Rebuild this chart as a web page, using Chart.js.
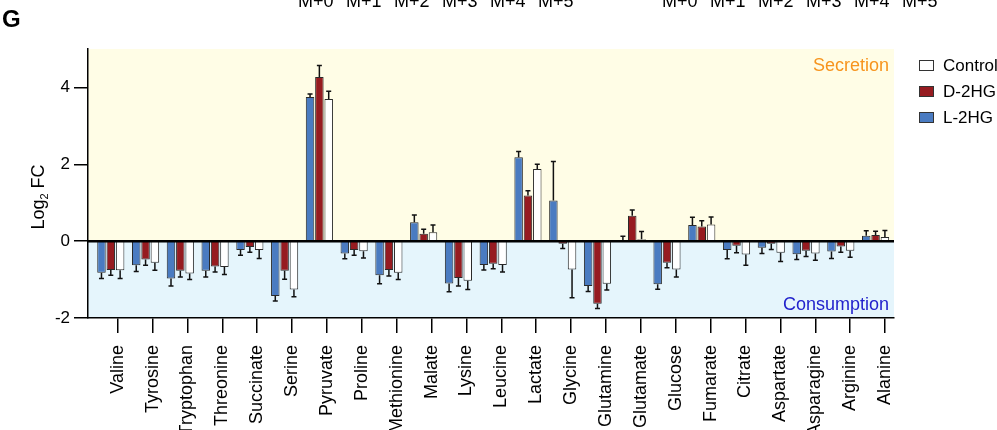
<!DOCTYPE html>
<html>
<head>
<meta charset="utf-8">
<script src="https://cdn.jsdelivr.net/npm/chart.js@4"></script>
<style>
  body { margin: 0; background: #fff; overflow: hidden; font-family: "Liberation Sans", Arial, sans-serif; }
  #wrap { position: relative; width: 997px; height: 430px; }
  canvas { position: absolute; left: 0; top: 0; }
  .txt { position: absolute; white-space: nowrap; color: #000; }
  .mrow { font-size: 18px; top: -9px; word-spacing: 7.5px; }
  .sw { position: absolute; width: 13px; height: 9px; border: 1.5px solid #333; }
</style>
</head>
<body>
<div id="wrap">
  <canvas id="chart" width="997" height="430"></canvas>
  <div class="txt" style="left:2px; top:5px; font-size:24px; font-weight:bold;">G</div>
  <div class="txt mrow" style="left:298px;">M+0 M+1 M+2 M+3 M+4 M+5</div>
  <div class="txt mrow" style="left:662px;">M+0 M+1 M+2 M+3 M+4 M+5</div>
  <div class="txt" style="left:39px; top:197px; font-size:18px; transform: translate(-50%,-50%) rotate(-90deg);">Log<sub style="font-size:11px;">2</sub> FC</div>
  <div class="txt" style="right:108px; top:55px; font-size:18px; color:#f7941d;">Secretion</div>
  <div class="txt" style="right:108px; top:294px; font-size:18px; color:#2222cc;">Consumption</div>
  <div id="legend"></div>
</div>
<script>
// ----------- Data -----------
const metabolites = ["Valine","Tyrosine","Tryptophan","Threonine","Succinate","Serine","Pyruvate","Proline","Methionine","Malate","Lysine","Leucine","Lactate","Glycine","Glutamine","Glutamate","Glucose","Fumarate","Citrate","Aspartate","Asparagine","Arginine","Alanine"];

const l2hg    = [-0.82,-0.63,-0.97,-0.77,-0.23,-1.43,3.75,-0.32,-0.89,0.49,-1.10,-0.62,2.18,1.06,-1.17,0.03,-1.12,0.42,-0.23,-0.17,-0.34,-0.27,0.14];
const l2hgErr = [0.15,0.16,0.20,0.16,0.14,0.13,0.08,0.14,0.22,0.19,0.22,0.13,0.15,1.01,0.14,0.10,0.13,0.20,0.23,0.15,0.14,0.18,0.13];
const d2hg    = [-0.75,-0.48,-0.77,-0.66,-0.15,-0.77,4.27,-0.23,-0.75,0.19,-0.96,-0.59,1.19,-0.07,-1.63,0.66,-0.56,0.38,-0.12,-0.07,-0.25,-0.14,0.16];
const d2hgErr = [0.14,0.15,0.16,0.14,0.14,0.22,0.30,0.14,0.16,0.12,0.21,0.13,0.12,0.12,0.12,0.15,0.13,0.15,0.18,0.15,0.15,0.15,0.10];
const ctrl    = [-0.76,-0.56,-0.84,-0.67,-0.23,-1.26,3.70,-0.26,-0.82,0.23,-1.03,-0.62,1.88,-0.74,-1.11,0.05,-0.74,0.43,-0.35,-0.30,-0.32,-0.25,0.11];
const ctrlErr = [0.21,0.20,0.16,0.20,0.22,0.19,0.20,0.18,0.18,0.19,0.23,0.18,0.12,0.73,0.16,0.20,0.19,0.20,0.28,0.23,0.18,0.17,0.17];

const yTicks = [-2, 0, 2, 4];

const series = [
  { label: "L-2HG",   values: l2hg, errors: l2hgErr, color: "#4a7bc1" },
  { label: "D-2HG",   values: d2hg, errors: d2hgErr, color: "#961b20" },
  { label: "Control", values: ctrl, errors: ctrlErr, color: "#ffffff" }
];

// ----------- Legend (HTML) -----------
const legend = document.getElementById("legend");
series.slice().reverse().forEach((s, k) => {
  const cy = 65.5 + k * 26;
  const sw = document.createElement("div");
  sw.className = "sw";
  sw.style.left = "919px";
  sw.style.top = (cy - 6) + "px";
  sw.style.background = s.color;
  legend.appendChild(sw);
  const t = document.createElement("div");
  t.className = "txt";
  t.style.left = "943px";
  t.style.top = (cy - 10) + "px";
  t.style.fontSize = "17px";
  t.textContent = s.label;
  legend.appendChild(t);
});

// ----------- Plugins -----------
const zoneBackground = {
  id: "zoneBackground",
  beforeDraw(chart) {
    const { ctx, chartArea: a, scales } = chart;
    const y0 = scales.y.getPixelForValue(0);
    ctx.save();
    ctx.fillStyle = "#fffde6";
    ctx.fillRect(a.left, a.top, a.right - a.left, y0 - a.top);
    ctx.fillStyle = "#e5f5fc";
    ctx.fillRect(a.left, y0, a.right - a.left, a.bottom - y0);
    ctx.restore();
  }
};

const errorBars = {
  id: "errorBars",
  afterDatasetsDraw(chart) {
    const { ctx, scales } = chart;
    ctx.save();
    ctx.strokeStyle = "#111";
    ctx.lineWidth = 1.5;
    series.forEach((s, i) => {
      const meta = chart.getDatasetMeta(i);
      meta.data.forEach((bar, j) => {
        const v = s.values[j];
        const tip = v >= 0 ? v + s.errors[j] : v - s.errors[j];
        const yv = scales.y.getPixelForValue(v);
        const yt = scales.y.getPixelForValue(tip);
        ctx.beginPath();
        ctx.moveTo(bar.x, yv);
        ctx.lineTo(bar.x, yt);
        ctx.moveTo(bar.x - 2.5, yt);
        ctx.lineTo(bar.x + 2.5, yt);
        ctx.stroke();
      });
    });
    // zero line
    const y0 = scales.y.getPixelForValue(0);
    ctx.strokeStyle = "#000";
    ctx.lineWidth = 2.5;
    ctx.beginPath();
    ctx.moveTo(chart.chartArea.left, y0);
    ctx.lineTo(chart.chartArea.right, y0);
    ctx.stroke();
    ctx.restore();
  }
};

// ----------- Chart -----------
Chart.defaults.font.family = '"Liberation Sans", Arial, sans-serif';
Chart.defaults.color = "#000";

new Chart(document.getElementById("chart").getContext("2d"), {
  type: "bar",
  data: {
    datasets: series.map(s => ({
      label: s.label,
      data: s.values.map((v, i) => ({ x: i, y: v })),
      backgroundColor: s.color,
      borderColor: "#2a2a2a",
      borderWidth: 1,
      categoryPercentage: 0.805,
      barPercentage: 0.91
    }))
  },
  options: {
    responsive: false,
    animation: false,
    devicePixelRatio: 1,
    layout: { padding: { left: 0, right: 103, top: 49, bottom: 0 } },
    plugins: { legend: { display: false }, tooltip: { enabled: false } },
    scales: {
      x: {
        type: "linear",
        display: false,
        offset: false,
        grid: { offset: false },
        min: -0.656,
        max: 22.53
      },
      xl: {
        type: "linear",
        position: "bottom",
        offset: false,
        min: -0.851,
        max: 22.257,
        afterBuildTicks: scale => { scale.ticks = metabolites.map((m, i) => ({ value: i })); },
        afterFit: scale => { scale.height = 112; },
        ticks: {
          autoSkip: false,
          minRotation: 90,
          maxRotation: 90,
          padding: 12,
          font: { size: 18 },
          callback: v => metabolites[v]
        },
        grid: { offset: false, drawOnChartArea: false, tickLength: 15, color: "#000", lineWidth: 1.5 },
        border: { color: "#000", width: 1.5 }
      },
      y: {
        min: -2,
        max: 5,
        afterBuildTicks: scale => { scale.ticks = yTicks.map(v => ({ value: v })); },
        afterFit: scale => { scale.width = 88; },
        ticks: { padding: 4, font: { size: 17 } },
        grid: { drawOnChartArea: false, tickLength: 14, color: "#000", lineWidth: 1.5 },
        border: { color: "#000", width: 1.5 }
      }
    }
  },
  plugins: [zoneBackground, errorBars]
});
</script>
</body>
</html>
